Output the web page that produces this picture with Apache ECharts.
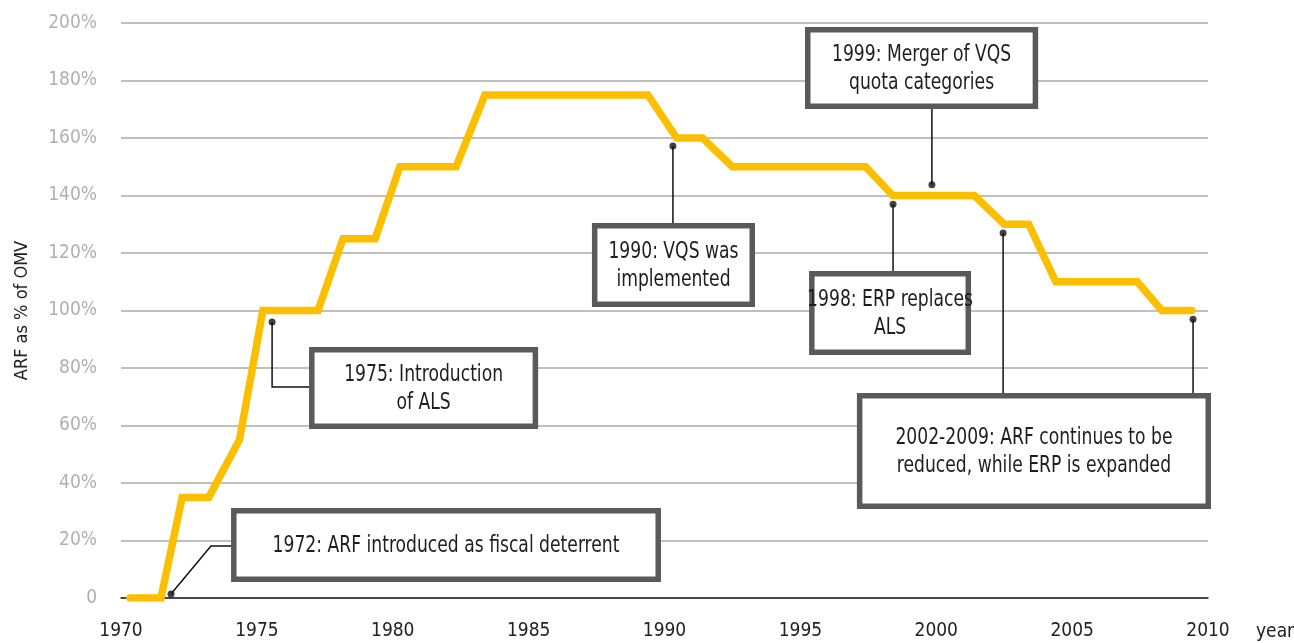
<!DOCTYPE html>
<html>
<head>
<meta charset="utf-8">
<title>ARF as % of OMV</title>
<script src="https://cdn.jsdelivr.net/npm/echarts@6/dist/echarts.min.js"></script>
<style>
  html, body { margin: 0; padding: 0; background: #fff; }
  #chart { width: 1294px; height: 643px; }
</style>
</head>
<body>
<div id="chart"></div>
<script>
// ARF level, vertex by vertex (year position, % of OMV)
var arfYears = [1970.33, 1971.47, 1972.25, 1973.23, 1974.36, 1975.22, 1977.25, 1978.17, 1979.35,
  1980.26, 1982.33, 1983.39, 1989.39, 1990.45, 1991.4, 1992.5, 1997.4, 1998.4, 2001.4,
  2002.5, 2003.4, 2004.4, 2007.4, 2008.3, 2009.4];
var arfValues = [0, 0, 35, 35, 55, 100, 100, 125, 125,
  150, 150, 175, 175, 160, 160, 150, 150, 140, 140,
  130, 130, 110, 110, 100, 100];

// ticks
var yearTicks = [1970, 1975, 1980, 1985, 1990, 1995, 2000, 2005, 2010];
var pctTicks = [0, 20, 40, 60, 80, 100, 120, 140, 160, 180, 200];

// event texts
var noteTexts = [
  '1972: ARF introduced as fiscal deterrent',
  '1975: Introduction\nof ALS',
  '1990: VQS was\nimplemented',
  '1998: ERP replaces\nALS',
  '1999: Merger of VQS\nquota categories',
  '2002-2009: ARF continues to be\nreduced, while ERP is expanded'
];

// where each event points on the curve
var dotYears = [1971.84, 1975.56, 1990.31, 1998.41, 1999.84, 2002.46, 2009.45];
var dotValues = [1.4, 96, 157.2, 137, 143.7, 127, 97];

// layout of the note boxes, in axis units: [x0, top, x1, bottom]
var noteBoxes = [
  [1974.05, 31.3, 1989.87, 5.6],
  [1976.92, 87.3, 1985.35, 58.8],
  [1987.33, 130.4, 1993.33, 101.2],
  [1995.32, 113.7, 2001.28, 84.5],
  [1995.17, 198.6, 2003.75, 170.1],
  [1997.08, 71.3, 2010.11, 31.0]
];
// leader lines from dots to boxes
var leaders = [
  [[1971.84, 1.4], [1973.31, 18.1], [1974.05, 18.1]],
  [[1975.56, 96], [1975.56, 73.4], [1976.92, 73.4]],
  [[1990.31, 157.2], [1990.31, 130.4]],
  [[1998.41, 137], [1998.41, 113.7]],
  [[1999.84, 143.7], [1999.84, 170.1]],
  [[2002.46, 127], [2002.46, 71.3]],
  [[2009.45, 97], [2009.45, 71.3]]
];

var FONT = '"Liberation Sans Narrow", "DejaVu Sans Condensed", "Roboto", sans-serif';

var chart = echarts.init(document.getElementById('chart'));

var linePoints = [];
for (var i = 0; i < arfYears.length; i++) {
  linePoints.push([arfYears[i], arfValues[i]]);
}
var dotPoints = [];
for (var j = 0; j < dotYears.length; j++) {
  dotPoints.push([dotYears[j], dotValues[j]]);
}

var option = {
  animation: false,
  backgroundColor: '#fff',
  textStyle: { fontFamily: FONT },
  grid: { left: 121, right: 86, top: 23, bottom: 45, outerBoundsMode: 'none', containLabel: false },
  xAxis: {
    type: 'value',
    min: yearTicks[0],
    max: yearTicks[yearTicks.length - 1],
    interval: 5,
    name: 'year',
    nameLocation: 'end',
    nameGap: 48,
    nameTextStyle: { color: '#222', fontSize: 19, fontFamily: FONT, align: 'left', verticalAlign: 'top', padding: [25, 0, 0, 0] },
    axisLine: { show: true, lineStyle: { color: '#222', width: 1.5 } },
    axisTick: { show: false },
    splitLine: { show: false },
    axisLabel: {
      color: '#222', fontSize: 19, fontFamily: FONT, margin: 24,
      formatter: function (v) { return String(v); }
    }
  },
  yAxis: {
    type: 'value',
    min: pctTicks[0],
    max: pctTicks[pctTicks.length - 1],
    interval: 20,
    name: 'ARF as % of OMV',
    nameLocation: 'middle',
    nameGap: 90,
    nameTextStyle: { color: '#222', fontSize: 18, fontFamily: FONT },
    axisLine: { show: false },
    axisTick: { show: false },
    splitLine: { lineStyle: { color: '#abaaa4', width: 1.5 } },
    axisLabel: {
      color: '#b0b0b0', fontSize: 19, fontFamily: FONT, margin: 24,
      formatter: function (v) { return v === 0 ? '0' : v + '%'; }
    }
  },
  series: [
    {
      name: 'ARF',
      type: 'line',
      data: linePoints,
      showSymbol: false,
      silent: true,
      z: 2,
      lineStyle: { color: '#fbbf00', width: 7.5, cap: 'round', join: 'miter' }
    },
    {
      type: 'lines',
      coordinateSystem: 'cartesian2d',
      polyline: true,
      silent: true,
      z: 3,
      data: leaders.map(function (c) { return { coords: c }; }),
      lineStyle: { color: '#111', width: 1.5, opacity: 1 }
    },
    {
      type: 'scatter',
      data: dotPoints,
      symbol: 'circle',
      symbolSize: 7,
      silent: true,
      z: 5,
      itemStyle: { color: '#111' }
    },
    {
      type: 'custom',
      data: noteBoxes,
      clip: false,
      silent: true,
      z: 4,
      renderItem: function (params, api) {
        var p0 = api.coord([api.value(0), api.value(1)]);
        var p1 = api.coord([api.value(2), api.value(3)]);
        var b = 5.5;
        return {
          type: 'group',
          children: [
            {
              type: 'rect',
              shape: { x: p0[0] + b / 2, y: p0[1] + b / 2, width: p1[0] - p0[0] - b, height: p1[1] - p0[1] - b },
              style: { fill: '#fff', stroke: '#5a5a5a', lineWidth: b }
            },
            {
              type: 'text',
              x: (p0[0] + p1[0]) / 2,
              y: (p0[1] + p1[1]) / 2 + 1,
              scaleX: 0.83,
              style: {
                text: noteTexts[params.dataIndex],
                x: 0,
                y: 0,
                align: 'center',
                verticalAlign: 'middle',
                fontSize: 23,
                fontFamily: FONT,
                lineHeight: 28.5,
                fill: '#1e1e1e'
              }
            }
          ]
        };
      }
    }
  ]
};

chart.setOption(option);
</script>
</body>
</html>
